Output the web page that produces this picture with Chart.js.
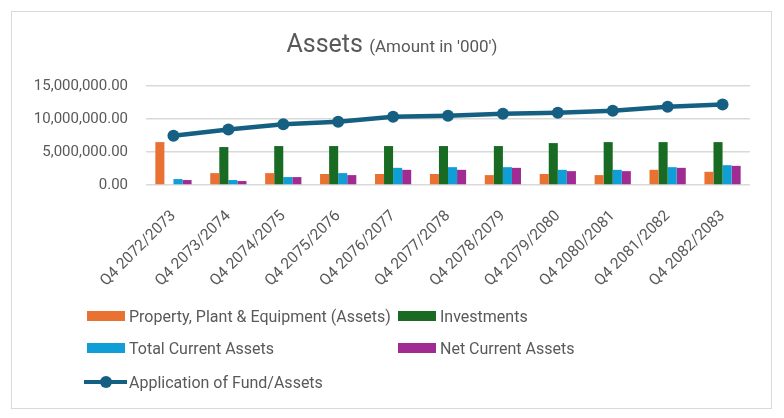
<!DOCTYPE html>
<html>
<head>
<meta charset="utf-8">
<script src="https://cdn.jsdelivr.net/npm/chart.js@4.4.1/dist/chart.umd.min.js"></script>
<style>
  body { margin: 0; background: #fff; font-family: Roboto, sans-serif; color: #595959; }
  #wrap { position: relative; width: 784px; height: 418px; }
  #frame { position: absolute; left: 11px; top: 11px; width: 759px; height: 396px; border: 1px solid #d9d9d9; }
  canvas { position: absolute; left: 0; top: 0; }
  #title { position: absolute; top: 28px; left: 0; width: 784px; text-align: center; font-size: 25px; line-height: 32px; }
  #title small { font-size: 17px; }
  .leg { position: absolute; font-size: 16px; height: 20px; display: flex; align-items: center; }
  .sw { width: 38px; height: 10px; margin-right: 4px; }
  .mk { position: relative; width: 43px; height: 12px; margin-right: 2px; }
  .mk i { position: absolute; left: 0; right: 0; top: 4px; height: 4px; background: #156082; }
  .mk b { position: absolute; left: 16px; top: 0; width: 12px; height: 12px; border-radius: 50%; background: #156082; }
</style>
</head>
<body>
<div id="wrap">
  <div id="frame"></div>
  <canvas id="assetsChart" width="784" height="418"></canvas>
  <div id="title">Assets <small>(Amount in '000')</small></div>
  <div id="legend"></div>
</div>
<script>
// Assets chart data
const quarters = ['Q4 2072/2073', 'Q4 2073/2074', 'Q4 2074/2075', 'Q4 2075/2076', 'Q4 2076/2077',
  'Q4 2077/2078', 'Q4 2078/2079', 'Q4 2079/2080', 'Q4 2080/2081', 'Q4 2081/2082', 'Q4 2082/2083'];

const propertyPlant = [6500000, 1800000, 1800000, 1670000, 1670000, 1670000, 1500000, 1670000, 1500000, 2300000, 2000000];
const investments = [0, 5750000, 5900000, 5900000, 5900000, 5900000, 5900000, 6350000, 6500000, 6500000, 6500000];
const totalCurrent = [900000, 750000, 1200000, 1800000, 2600000, 2700000, 2700000, 2300000, 2300000, 2700000, 3000000];
const netCurrent = [750000, 600000, 1200000, 1500000, 2300000, 2300000, 2600000, 2100000, 2100000, 2600000, 2900000];
const applicationFund = [7470000, 8400000, 9200000, 9600000, 10350000, 10500000, 10800000, 10950000, 11250000, 11850000, 12200000];

const yTicks = [0, 5000000, 10000000, 15000000];

const barSeries = [
  { label: 'Property, Plant & Equipment (Assets)', data: propertyPlant, color: '#E97132' },
  { label: 'Investments', data: investments, color: '#196B24' },
  { label: 'Total Current Assets', data: totalCurrent, color: '#0F9ED5' },
  { label: 'Net Current Assets', data: netCurrent, color: '#A02B93' },
];
const lineColor = '#156082';

const datasets = barSeries.map(s => ({
  type: 'bar',
  label: s.label,
  data: s.data,
  backgroundColor: s.color,
  categoryPercentage: 0.66,
  barPercentage: 1,
  order: 1,
}));
datasets.push({
  type: 'line',
  label: 'Application of Fund/Assets',
  data: applicationFund,
  borderColor: lineColor,
  backgroundColor: lineColor,
  borderWidth: 4.5,
  pointRadius: 6,
  pointBackgroundColor: lineColor,
  pointBorderWidth: 0,
  tension: 0,
  order: 0,
});

const ctx = document.getElementById('assetsChart').getContext('2d');
new Chart(ctx, {
  type: 'bar',
  data: { labels: quarters, datasets: datasets },
  options: {
    responsive: false,
    animation: false,
    layout: { padding: { left: 20, right: 34, top: 86, bottom: 0 } },
    plugins: { legend: { display: false }, tooltip: { enabled: false } },
    scales: {
      x: {
        grid: { display: false },
        border: { display: false },
        ticks: {
          color: '#595959', font: { family: 'Roboto', size: 15.5 },
          minRotation: 45, maxRotation: 45, padding: 14,
        },
        afterFit: s => { s.height = 233; },
      },
      y: {
        min: 0,
        max: 15000000,
        afterBuildTicks: s => { s.ticks = yTicks.map(v => ({ value: v })); },
        grid: { color: '#d9d9d9', lineWidth: 1.5, drawTicks: false },
        border: { display: false },
        ticks: {
          color: '#595959', font: { family: 'Roboto', size: 15 }, padding: 18,
          callback: v => v.toLocaleString('en-US', { minimumFractionDigits: 2, maximumFractionDigits: 2 }),
        },
        afterFit: s => { s.width = 126; },
      },
    },
  },
});

// legend below the chart, two columns like the original
const legendPos = [[87, 306], [398, 306], [87, 338], [398, 338]];
let legendHTML = '';
barSeries.forEach((s, i) => {
  legendHTML += `<div class="leg" style="left:${legendPos[i][0]}px;top:${legendPos[i][1]}px">
    <span class="sw" style="background:${s.color}"></span>${s.label}</div>`;
});
legendHTML += `<div class="leg" style="left:84px;top:372px"><span class="mk"><i></i><b></b></span>Application of Fund/Assets</div>`;
document.getElementById('legend').innerHTML = legendHTML;
</script>
</body>
</html>
